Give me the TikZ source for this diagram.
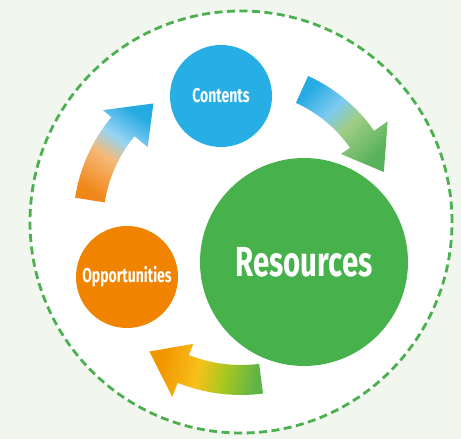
\documentclass[tikz,border=0pt]{standalone}
\usepackage{fontspec}
\setmainfont{Fira Sans}
\newfontfamily\dinfont[FakeStretch=0.70]{Fira Sans}
\usetikzlibrary{calc}
\definecolor{bgc}{RGB}{241,246,238}
\definecolor{dgreen}{RGB}{76,176,80}
\definecolor{cblue}{RGB}{39,174,229}
\definecolor{cgreen}{RGB}{71,177,76}
\definecolor{corange}{RGB}{240,131,0}
\definecolor{aOr}{RGB}{240,135,25}
\definecolor{aOrL}{RGB}{246,185,120}
\definecolor{aBlL}{RGB}{150,212,243}
\definecolor{aBl}{RGB}{38,170,226}
\definecolor{bBl}{RGB}{40,170,227}
\definecolor{bBlL}{RGB}{125,203,241}
\definecolor{bGrL}{RGB}{160,205,135}
\definecolor{bGr}{RGB}{88,178,90}
\definecolor{cOr}{RGB}{242,150,0}
\definecolor{cYe}{RGB}{248,192,27}
\definecolor{cYG}{RGB}{175,200,30}
\definecolor{cGr}{RGB}{93,181,72}
\pgfdeclarehorizontalshading{shA}{100bp}{color(0bp)=(aOr); color(25bp)=(aOr); color(46bp)=(aOrL); color(58bp)=(aBlL); color(75bp)=(aBl); color(100bp)=(aBl)}
\pgfdeclarehorizontalshading{shB}{100bp}{color(0bp)=(bBl); color(25bp)=(bBl); color(41bp)=(bBlL); color(53bp)=(bGrL); color(75bp)=(bGr); color(100bp)=(bGr)}
\pgfdeclarehorizontalshading{shC}{100bp}{color(0bp)=(cOr); color(28bp)=(cOr); color(46bp)=(cYe); color(58bp)=(cYG); color(75bp)=(cGr); color(100bp)=(cGr)}
\tikzset{
  blob/.style={circle, inner sep=0pt, text=white},
  smalltxt/.style={font=\dinfont\bfseries\fontsize{20}{20}\selectfont},
  bigtxt/.style={font=\dinfont\bfseries\fontsize{42}{42}\selectfont}
}
\begin{document}
\begin{tikzpicture}[x=1pt,y=1pt]
\fill[bgc] (0,0) rectangle (461,439);
\useasboundingbox (0,0) rectangle (461,439);
\node[circle, inner sep=0pt, minimum size=422pt, fill=white, draw=dgreen, line width=2.8pt, dash pattern=on 8pt off 4.5pt] (frame) at (241,217) {};
\coordinate (o) at (241,215);
% arrow Opportunities -> Contents
\shade[shading=shA, shading angle=56]
  ($(o)+(171:168)$) arc[start angle=171, end angle=140.5, radius=168]
  -- ($(o)+(140.5:179)$) -- ($(o)+(126:149)$) -- ($(o)+(140.5:121)$)
  -- ($(o)+(140.5:138)$) arc[start angle=140.5, end angle=171, radius=138] -- cycle;
% arrow Contents -> Resources
\shade[shading=shB, shading angle=-45]
  ($(o)+(65.6:162.5)$) arc[start angle=65.6, end angle=35, radius=162.5]
  -- ($(o)+(35:179)$) -- ($(o)+(20:152)$) -- ($(o)+(35:122)$)
  -- ($(o)+(35:133)$) arc[start angle=35, end angle=65.6, radius=133] -- cycle;
% arrow Resources -> Opportunities
\shade[shading=shC, shading angle=-12]
  ($(o)+(277.4:171)$) arc[start angle=277.4, end angle=248.3, radius=171]
  -- ($(o)+(248.3:186)$) -- ($(o)+(234.3:157)$) -- ($(o)+(248.3:129)$)
  -- ($(o)+(248.3:141)$) arc[start angle=248.3, end angle=277.4, radius=141] -- cycle;
\node[blob, fill=cblue, minimum size=102pt, smalltxt] (contents) at (221,343) {Contents};
\node[blob, fill=cgreen, minimum size=208pt, bigtxt] (resources) at (304,177) {Resources};
\node[blob, fill=corange, minimum size=102pt, smalltxt] (opps) at (127,162) {Opportunities};
\end{tikzpicture}
\end{document}
